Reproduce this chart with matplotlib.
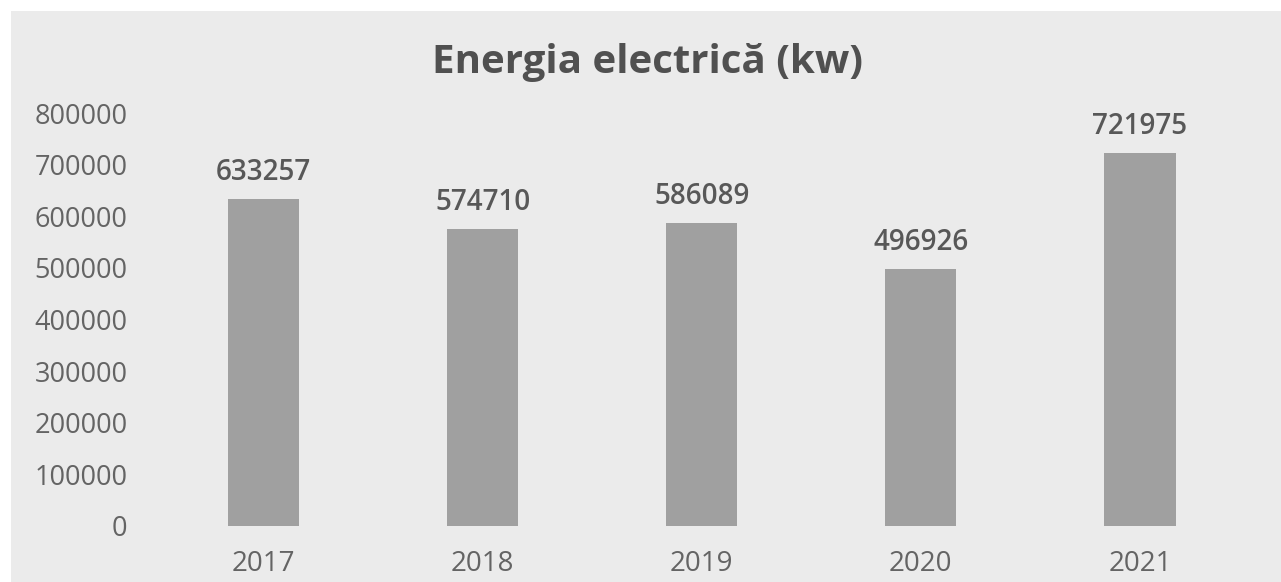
import matplotlib
matplotlib.use("Agg")
import matplotlib.pyplot as plt
from matplotlib.patches import Rectangle

years = ["2017", "2018", "2019", "2020", "2021"]
values = [633257, 574710, 586089, 496926, 721975]
yticks = [0, 100000, 200000, 300000, 400000, 500000, 600000, 700000, 800000]
title = "Energia electrică (kw)"

W, H = 1281, 582
fig = plt.figure(figsize=(W / 100, H / 100), dpi=100, facecolor="white")
fig.patches.append(Rectangle((11 / W, 0), 1 - 11 / W, 1 - 11 / H,
                             transform=fig.transFigure, facecolor="#ebebeb",
                             edgecolor="none", zorder=-5))

left, right = 154 / W, 1249.5 / W
bottom, top = 1 - 526 / H, 1 - 113 / H
ax = fig.add_axes([left, bottom, right - left, top - bottom])
ax.set_facecolor("none")
ax.set_zorder(2)

font = "Open Sans"
txt_col = "#646464"
x = range(len(years))
bars = ax.bar(x, values, width=0.325, color="#a0a0a0", zorder=2)
for xi, v in zip(x, values):
    ax.annotate(str(v), (xi, v), xytext=(0, 9), textcoords="offset points",
                ha="center", va="bottom", fontsize=20, color="#585858",
                family=font, fontweight="semibold")

ax.set_xlim(-0.5, len(years) - 0.5)
ax.set_ylim(0, 800000)
ax.set_yticks(yticks)
ax.set_yticklabels([str(t) for t in yticks], family=font, fontsize=19.5, color=txt_col)
ax.set_xticks(list(x))
ax.set_xticklabels(years, family=font, fontsize=20, color=txt_col)
ax.tick_params(axis="both", length=0)
ax.tick_params(axis="y", pad=19)
ax.tick_params(axis="x", pad=17)
for s in ax.spines.values():
    s.set_visible(False)

fig.text(647 / W, 1 - 63 / H, title, ha="center", va="center", fontsize=29,
         fontweight="bold", family=font, color="#505050")

fig.savefig("out.png", dpi=100, facecolor=fig.get_facecolor())
